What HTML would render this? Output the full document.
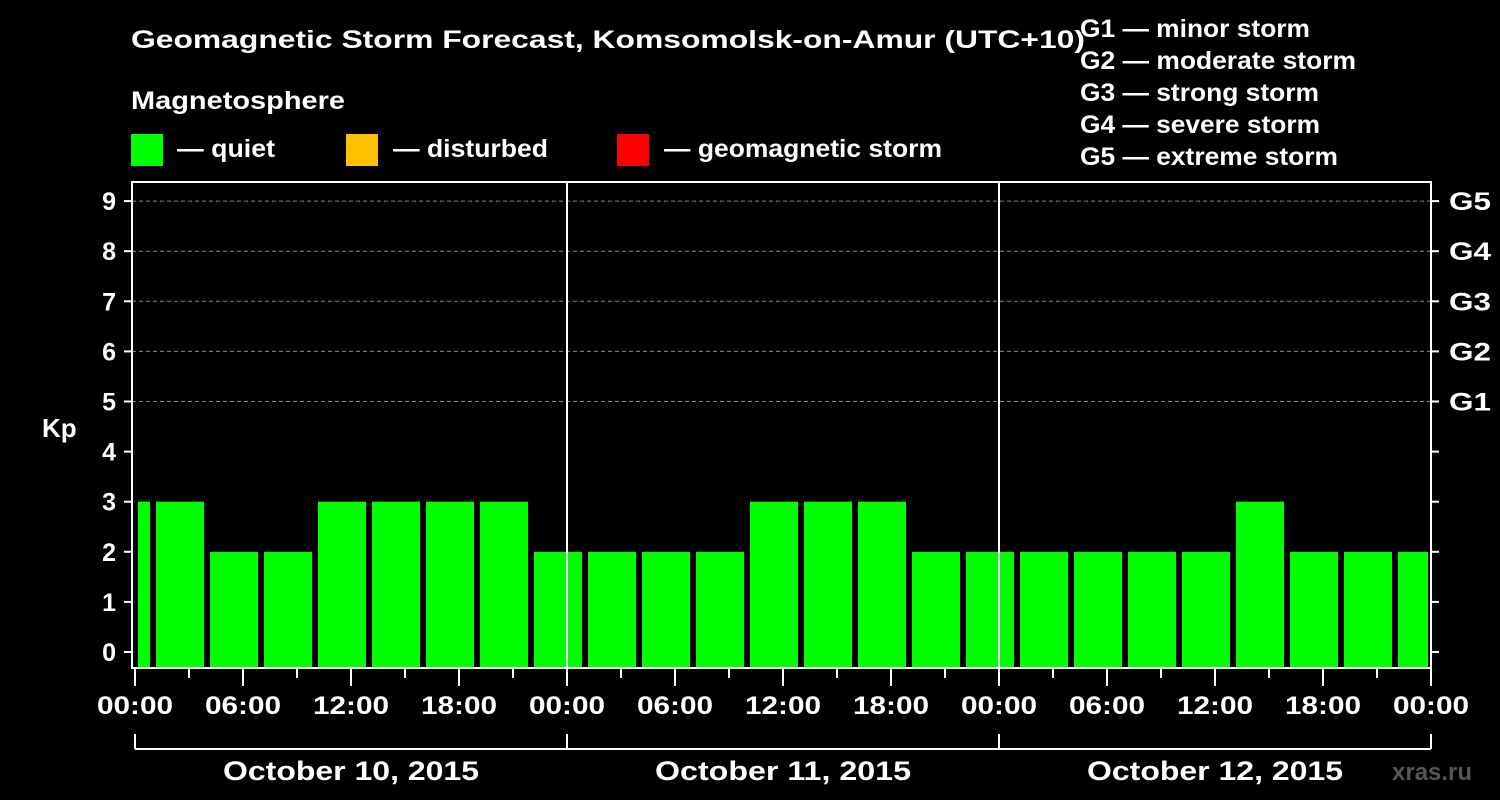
<!DOCTYPE html>
<html><head><meta charset="utf-8"><style>
body{margin:0;background:#000;}
svg{display:block;font-family:"Liberation Sans",Arial,sans-serif;font-weight:bold;}
</style></head><body>
<svg id="chart" width="1500" height="800" viewBox="0 0 1500 800">
<rect width="1500" height="800" fill="#000"/>
<text x="131" y="48" fill="#fff" font-size="25" textLength="954" lengthAdjust="spacingAndGlyphs">Geomagnetic Storm Forecast, Komsomolsk-on-Amur (UTC+10)</text>
<text x="131" y="109" fill="#fff" font-size="25" textLength="214" lengthAdjust="spacingAndGlyphs">Magnetosphere</text>
<g>
<rect x="131" y="134" width="32" height="32" fill="#00ff00"/>
<text x="177" y="157" fill="#fff" font-size="25" textLength="98" lengthAdjust="spacingAndGlyphs">— quiet</text>
<rect x="346" y="134" width="32" height="32" fill="#ffc000"/>
<text x="393" y="157" fill="#fff" font-size="25" textLength="155" lengthAdjust="spacingAndGlyphs">— disturbed</text>
<rect x="617" y="134" width="32" height="32" fill="#ff0000"/>
<text x="664" y="157" fill="#fff" font-size="25" textLength="278" lengthAdjust="spacingAndGlyphs">— geomagnetic storm</text>
</g>
<g fill="#fff" font-size="25">
<text x="1080" y="37" textLength="230" lengthAdjust="spacingAndGlyphs">G1 — minor storm</text>
<text x="1080" y="69" textLength="276" lengthAdjust="spacingAndGlyphs">G2 — moderate storm</text>
<text x="1080" y="101" textLength="239" lengthAdjust="spacingAndGlyphs">G3 — strong storm</text>
<text x="1080" y="133" textLength="240" lengthAdjust="spacingAndGlyphs">G4 — severe storm</text>
<text x="1080" y="165" textLength="258" lengthAdjust="spacingAndGlyphs">G5 — extreme storm</text>
</g>
<text x="42" y="437" fill="#fff" font-size="26">Kp</text>
<text x="1392" y="780" fill="#555" font-size="24">xras.ru</text>
<g id="plot"></g>
</svg>
<script>
const kpValues = [3, 3,2,2,3,3,3,3,2, 2,2,2,3,3,3,2,2, 2,2,2,2,3,2,2,2];
const startHours = [-2, 1,4,7,10,13,16,19,22, 25,28,31,34,37,40,43,46, 49,52,55,58,61,64,67,70];
const yTicks = [0,1,2,3,4,5,6,7,8,9];
const gLabels = ["G1","G2","G3","G4","G5"];
const timeLabels = ["00:00","06:00","12:00","18:00","00:00","06:00","12:00","18:00","00:00","06:00","12:00","18:00","00:00"];
const dayLabels = ["October 10, 2015","October 11, 2015","October 12, 2015"];

(function(){
const NS="http://www.w3.org/2000/svg";
const X0=135, PX_H=18, TOTAL_H=72;
const pL=132, pR=1431, pT=182, pB=668;
const xs = h => X0 + Math.max(0, Math.min(TOTAL_H, h)) * PX_H;
const ys = k => 652 - k*50.1;
const grp = document.getElementById('plot');
function mk(tag, attrs, text){const e=document.createElementNS(NS,tag);for(const k in attrs)e.setAttribute(k,attrs[k]);if(text!==undefined)e.textContent=text;grp.appendChild(e);return e;}

for(let k=5;k<=9;k++){
  const l=mk('line',{x1:pL,x2:pR,y1:ys(k),y2:ys(k),stroke:'#888','stroke-dasharray':'4,3','stroke-width':1});
  
  
}
kpValues.forEach((v,i)=>{
  const x1=Math.max(xs(startHours[i])+3,pL+4), x2=Math.min(xs(startHours[i]+3)-3,pR-3);
  const r=mk('rect',{x:x1,y:ys(v),width:x2-x1,height:pB-ys(v),fill:'#00ff00'});
  
  
});
for(let d=1;d<3;d++){
  const l=mk('line',{x1:xs(d*24),x2:xs(d*24),y1:pT,y2:pB,stroke:'#fff','stroke-width':2});
  
  
}
const fr=mk('rect',{x:pL,y:pT,width:pR-pL,height:pB-pT,fill:'none',stroke:'#fff','stroke-width':2});


yTicks.forEach(k=>{
  mk('line',{x1:124,x2:pL,y1:ys(k),y2:ys(k),stroke:'#fff','stroke-width':2});
  mk('line',{x1:pR,x2:1439,y1:ys(k),y2:ys(k),stroke:'#fff','stroke-width':2});
  const t=mk('text',{x:116,y:ys(k)+9,fill:'#fff','font-size':25,'text-anchor':'end'},String(k));
  
  
});
gLabels.forEach((s,i)=>{
  const t=mk('text',{x:1449,y:ys(5+i)+9,fill:'#fff','font-size':25,textLength:42,lengthAdjust:'spacingAndGlyphs'},s);
  
  
});
for(let h=0;h<=TOTAL_H;h+=3){
  mk('line',{x1:xs(h),x2:xs(h),y1:pB,y2:h%6===0?686:678,stroke:'#fff','stroke-width':2});
}
timeLabels.forEach((s,i)=>{
  const t=mk('text',{x:xs(i*6),y:714,fill:'#fff','font-size':25,'text-anchor':'middle',textLength:76,lengthAdjust:'spacingAndGlyphs'},s);
  
  
});
mk('line',{x1:xs(0),x2:xs(72),y1:749,y2:749,stroke:'#fff','stroke-width':2});
for(let d=0;d<=3;d++) mk('line',{x1:xs(d*24),x2:xs(d*24),y1:734,y2:749,stroke:'#fff','stroke-width':2});
dayLabels.forEach((s,i)=>{
  const t=mk('text',{x:xs(i*24+12),y:780,fill:'#fff','font-size':27,'text-anchor':'middle',textLength:256,lengthAdjust:'spacingAndGlyphs'},s);
  
  
});
})();
</script>
</body></html>
